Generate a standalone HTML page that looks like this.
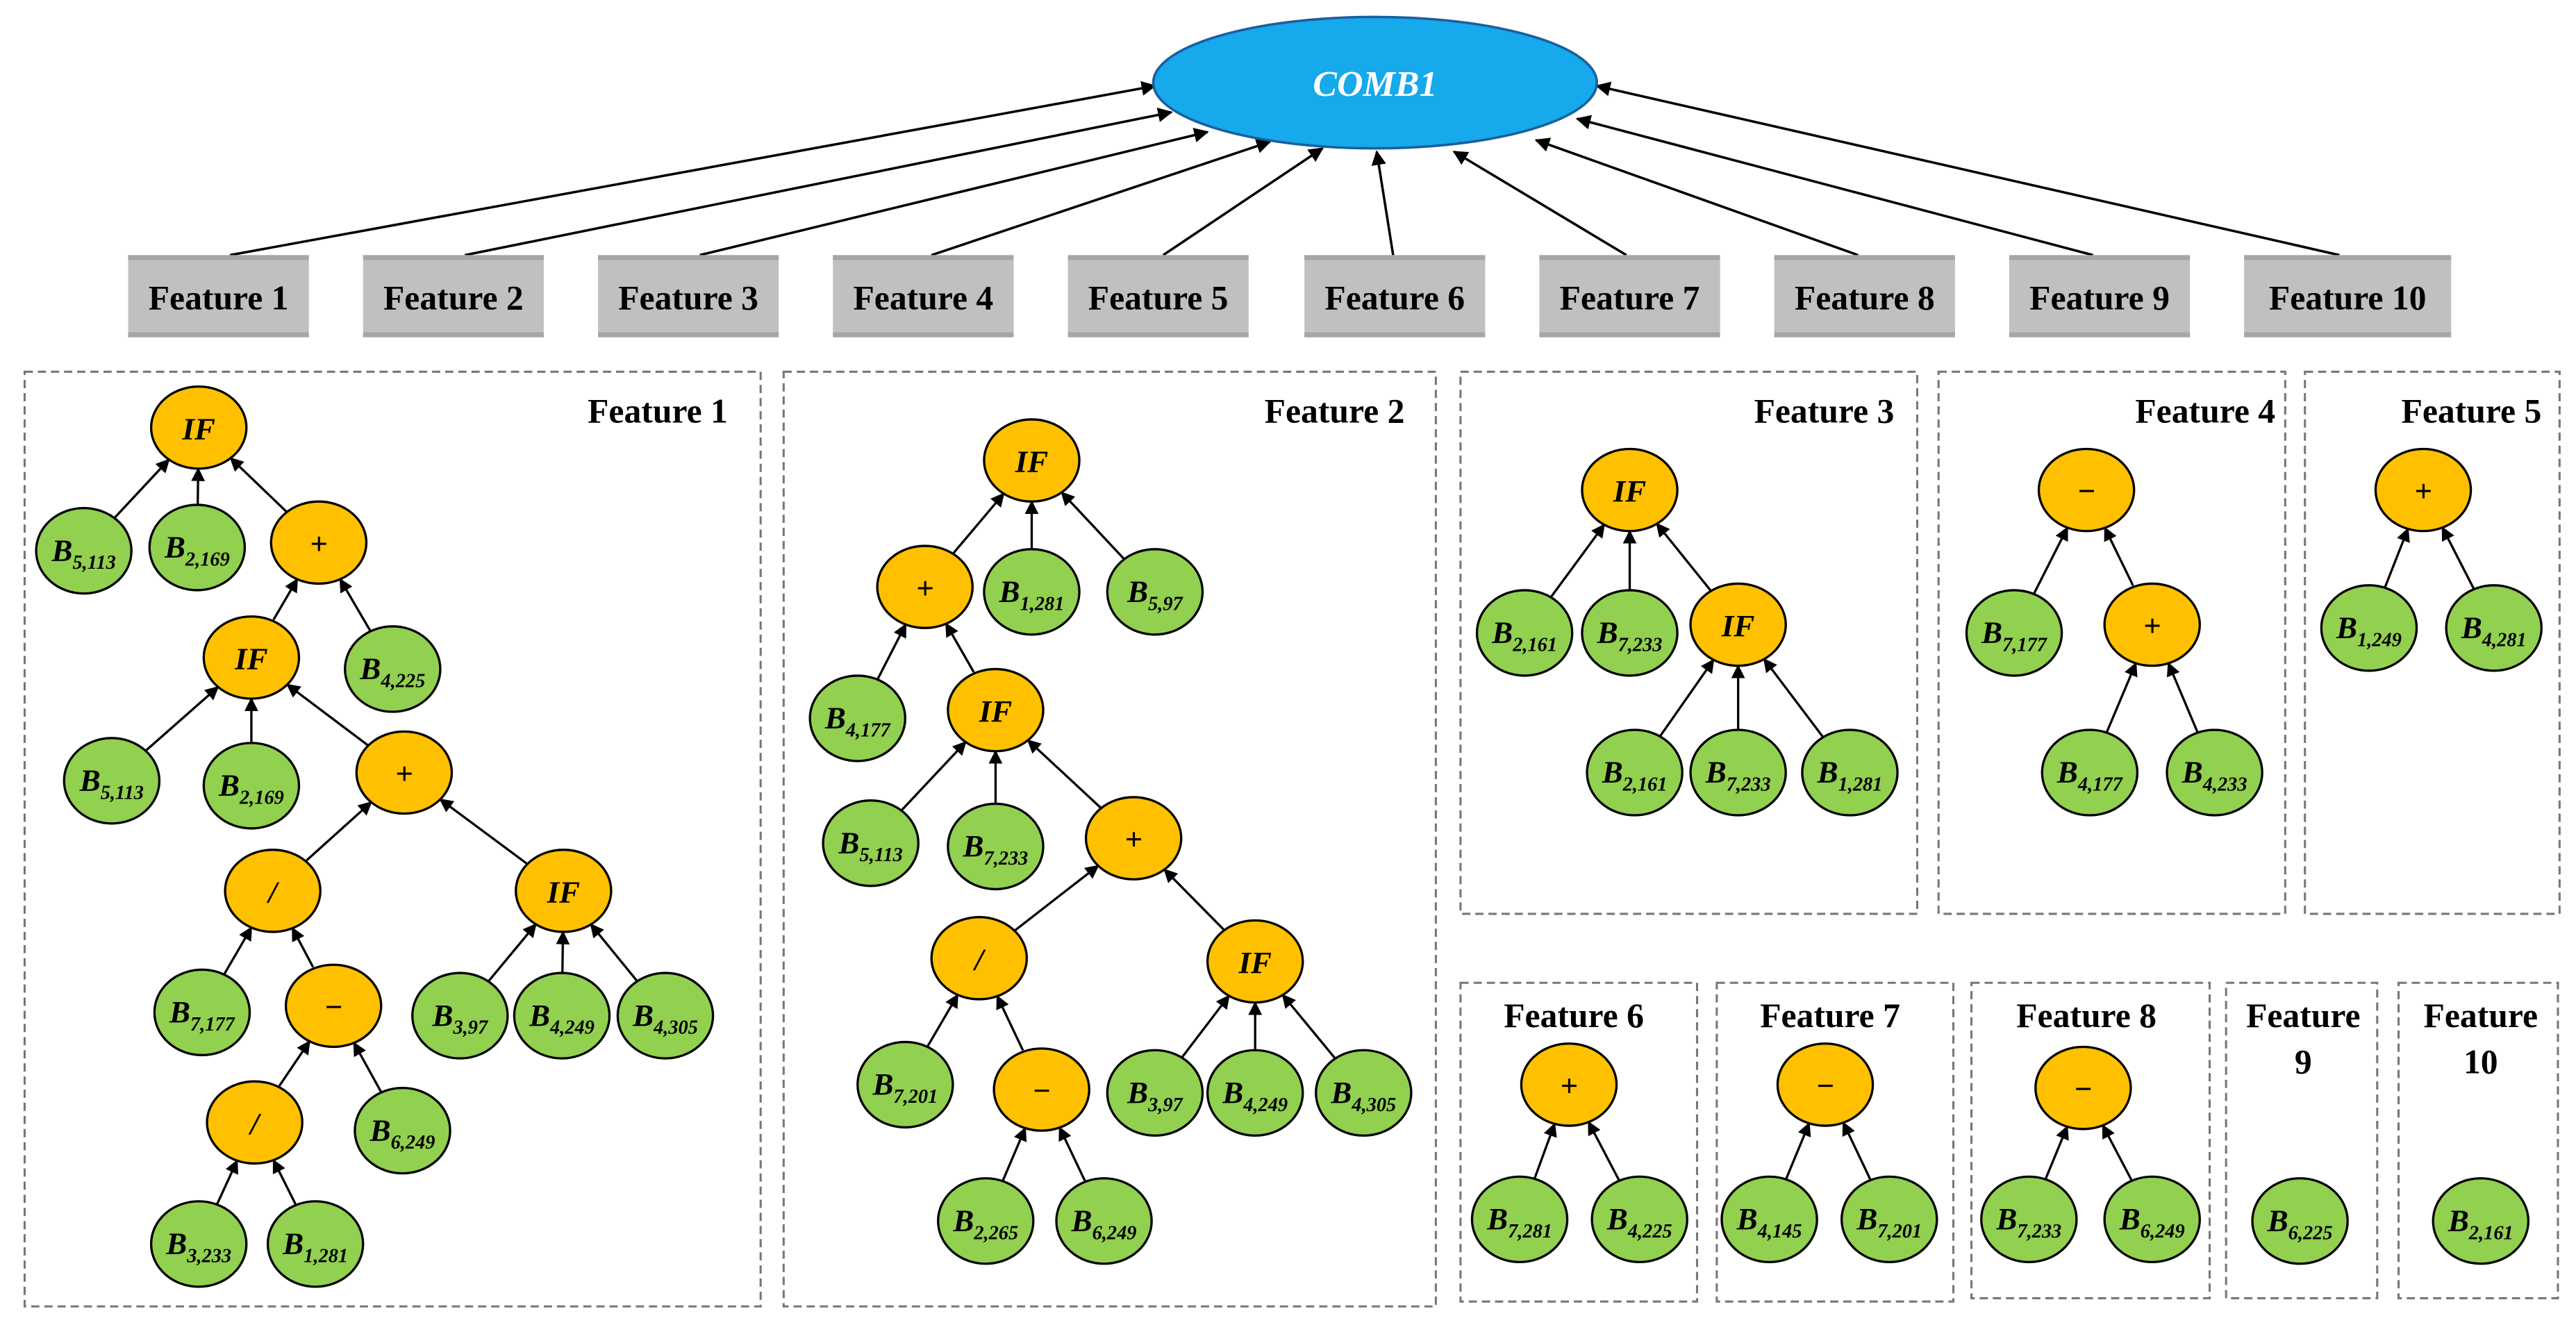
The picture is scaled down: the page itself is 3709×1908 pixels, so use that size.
<!DOCTYPE html>
<html><head><meta charset="utf-8"><style>
html,body{margin:0;padding:0;background:#fff;}
svg{display:block;font-family:"Liberation Serif","Times New Roman",serif;}
svg text{font-family:"Liberation Serif","Times New Roman",serif;font-weight:bold;}
.o ellipse{fill:#ffc000;stroke:#000;stroke-width:1.4;}
.g ellipse{fill:#92d050;stroke:#000;stroke-width:1.4;}
.n text{font-style:italic;font-size:19px;text-anchor:middle;}
.n .s{font-size:12px;}
.t{font-size:21px;}
.p{fill:none;stroke:#777;stroke-width:1.3;stroke-dasharray:5,3;}
.fb rect.m{fill:#c0c0c0;}
.fb text{font-size:21px;text-anchor:middle;}
</style></head><body>
<svg id="s" width="3709" height="1908" viewBox="0 0 1568 806" xmlns="http://www.w3.org/2000/svg" font-family="Liberation Serif, serif">
<defs><marker id="a" viewBox="0 0 10 10" refX="9" refY="5" markerWidth="6" markerHeight="6" orient="auto"><path d="M0,0L10,5L0,10z" fill="#000"/></marker>
<marker id="b" viewBox="0 0 10 10" refX="9" refY="5" markerWidth="6" markerHeight="6" orient="auto"><path d="M0,0L10,5L0,10z" fill="#000"/></marker></defs>
<g id="edges"></g>
<ellipse cx="837" cy="50" rx="135" ry="40" fill="#16a9ec" stroke="#1a5f9e" stroke-width="1.5"/>
<text x="837" y="58" fill="#fff" font-style="italic" font-size="22" text-anchor="middle">COMB1</text>
<g class="fb">
<g transform="translate(78,155)"><rect class="m" width="110" height="50"/><rect width="110" height="3" fill="#a6a6a6"/><rect y="47" width="110" height="3" fill="#a6a6a6"/><text x="55" y="33">Feature 1</text></g>
<g transform="translate(221,155)"><rect class="m" width="110" height="50"/><rect width="110" height="3" fill="#a6a6a6"/><rect y="47" width="110" height="3" fill="#a6a6a6"/><text x="55" y="33">Feature 2</text></g>
<g transform="translate(364,155)"><rect class="m" width="110" height="50"/><rect width="110" height="3" fill="#a6a6a6"/><rect y="47" width="110" height="3" fill="#a6a6a6"/><text x="55" y="33">Feature 3</text></g>
<g transform="translate(507,155)"><rect class="m" width="110" height="50"/><rect width="110" height="3" fill="#a6a6a6"/><rect y="47" width="110" height="3" fill="#a6a6a6"/><text x="55" y="33">Feature 4</text></g>
<g transform="translate(650,155)"><rect class="m" width="110" height="50"/><rect width="110" height="3" fill="#a6a6a6"/><rect y="47" width="110" height="3" fill="#a6a6a6"/><text x="55" y="33">Feature 5</text></g>
<g transform="translate(794,155)"><rect class="m" width="110" height="50"/><rect width="110" height="3" fill="#a6a6a6"/><rect y="47" width="110" height="3" fill="#a6a6a6"/><text x="55" y="33">Feature 6</text></g>
<g transform="translate(937,155)"><rect class="m" width="110" height="50"/><rect width="110" height="3" fill="#a6a6a6"/><rect y="47" width="110" height="3" fill="#a6a6a6"/><text x="55" y="33">Feature 7</text></g>
<g transform="translate(1080,155)"><rect class="m" width="110" height="50"/><rect width="110" height="3" fill="#a6a6a6"/><rect y="47" width="110" height="3" fill="#a6a6a6"/><text x="55" y="33">Feature 8</text></g>
<g transform="translate(1223,155)"><rect class="m" width="110" height="50"/><rect width="110" height="3" fill="#a6a6a6"/><rect y="47" width="110" height="3" fill="#a6a6a6"/><text x="55" y="33">Feature 9</text></g>
<g transform="translate(1366,155)"><rect class="m" width="126" height="50"/><rect width="126" height="3" fill="#a6a6a6"/><rect y="47" width="126" height="3" fill="#a6a6a6"/><text x="63" y="33">Feature 10</text></g>
</g>
<rect class="p" x="15" y="226" width="448" height="569"/>
<rect class="p" x="477" y="226" width="397" height="569"/>
<rect class="p" x="889" y="226" width="278" height="330"/>
<rect class="p" x="1180" y="226" width="211" height="330"/>
<rect class="p" x="1403" y="226" width="155" height="330"/>
<rect class="p" x="889" y="598" width="144" height="194"/>
<rect class="p" x="1045" y="598" width="144" height="194"/>
<rect class="p" x="1200" y="598" width="145" height="192"/>
<rect class="p" x="1355" y="598" width="92" height="192"/>
<rect class="p" x="1460" y="598" width="97" height="192"/>
<text class="t" x="443" y="257" text-anchor="end">Feature 1</text>
<text class="t" x="855" y="257" text-anchor="end">Feature 2</text>
<text class="t" x="1153" y="257" text-anchor="end">Feature 3</text>
<text class="t" x="1385" y="257" text-anchor="end">Feature 4</text>
<text class="t" x="1547" y="257" text-anchor="end">Feature 5</text>
<text class="t" x="958" y="625" text-anchor="middle">Feature 6</text>
<text class="t" x="1114" y="625" text-anchor="middle">Feature 7</text>
<text class="t" x="1270" y="625" text-anchor="middle">Feature 8</text>
<text class="t" x="1402" y="625" text-anchor="middle">Feature</text>
<text class="t" x="1402" y="653" text-anchor="middle">9</text>
<text class="t" x="1510" y="625" text-anchor="middle">Feature</text>
<text class="t" x="1510" y="653" text-anchor="middle">10</text>
<g id="nodes">
<g class="n o" transform="translate(121,260)"><ellipse rx="29" ry="25"/><text y="7">IF</text></g>
<g class="n g" transform="translate(51,335)"><ellipse rx="29" ry="26"/><text y="6">B<tspan class="s" dy="5">5,113</tspan></text></g>
<g class="n g" transform="translate(120,333)"><ellipse rx="29" ry="26"/><text y="6">B<tspan class="s" dy="5">2,169</tspan></text></g>
<g class="n o" transform="translate(194,330)"><ellipse rx="29" ry="25"/><text y="7">+</text></g>
<g class="n o" transform="translate(153,400)"><ellipse rx="29" ry="25"/><text y="7">IF</text></g>
<g class="n g" transform="translate(239,407)"><ellipse rx="29" ry="26"/><text y="6">B<tspan class="s" dy="5">4,225</tspan></text></g>
<g class="n g" transform="translate(68,475)"><ellipse rx="29" ry="26"/><text y="6">B<tspan class="s" dy="5">5,113</tspan></text></g>
<g class="n g" transform="translate(153,478)"><ellipse rx="29" ry="26"/><text y="6">B<tspan class="s" dy="5">2,169</tspan></text></g>
<g class="n o" transform="translate(246,470)"><ellipse rx="29" ry="25"/><text y="7">+</text></g>
<g class="n o" transform="translate(166,542)"><ellipse rx="29" ry="25"/><text y="7">/</text></g>
<g class="n o" transform="translate(343,542)"><ellipse rx="29" ry="25"/><text y="7">IF</text></g>
<g class="n g" transform="translate(123,616)"><ellipse rx="29" ry="26"/><text y="6">B<tspan class="s" dy="5">7,177</tspan></text></g>
<g class="n o" transform="translate(203,612)"><ellipse rx="29" ry="25"/><text y="7">−</text></g>
<g class="n g" transform="translate(280,618)"><ellipse rx="29" ry="26"/><text y="6">B<tspan class="s" dy="5">3,97</tspan></text></g>
<g class="n g" transform="translate(342,618)"><ellipse rx="29" ry="26"/><text y="6">B<tspan class="s" dy="5">4,249</tspan></text></g>
<g class="n g" transform="translate(405,618)"><ellipse rx="29" ry="26"/><text y="6">B<tspan class="s" dy="5">4,305</tspan></text></g>
<g class="n o" transform="translate(155,683)"><ellipse rx="29" ry="25"/><text y="7">/</text></g>
<g class="n g" transform="translate(245,688)"><ellipse rx="29" ry="26"/><text y="6">B<tspan class="s" dy="5">6,249</tspan></text></g>
<g class="n g" transform="translate(121,757)"><ellipse rx="29" ry="26"/><text y="6">B<tspan class="s" dy="5">3,233</tspan></text></g>
<g class="n g" transform="translate(192,757)"><ellipse rx="29" ry="26"/><text y="6">B<tspan class="s" dy="5">1,281</tspan></text></g>
<g class="n o" transform="translate(628,280)"><ellipse rx="29" ry="25"/><text y="7">IF</text></g>
<g class="n o" transform="translate(563,357)"><ellipse rx="29" ry="25"/><text y="7">+</text></g>
<g class="n g" transform="translate(628,360)"><ellipse rx="29" ry="26"/><text y="6">B<tspan class="s" dy="5">1,281</tspan></text></g>
<g class="n g" transform="translate(703,360)"><ellipse rx="29" ry="26"/><text y="6">B<tspan class="s" dy="5">5,97</tspan></text></g>
<g class="n g" transform="translate(522,437)"><ellipse rx="29" ry="26"/><text y="6">B<tspan class="s" dy="5">4,177</tspan></text></g>
<g class="n o" transform="translate(606,432)"><ellipse rx="29" ry="25"/><text y="7">IF</text></g>
<g class="n g" transform="translate(530,513)"><ellipse rx="29" ry="26"/><text y="6">B<tspan class="s" dy="5">5,113</tspan></text></g>
<g class="n g" transform="translate(606,515)"><ellipse rx="29" ry="26"/><text y="6">B<tspan class="s" dy="5">7,233</tspan></text></g>
<g class="n o" transform="translate(690,510)"><ellipse rx="29" ry="25"/><text y="7">+</text></g>
<g class="n o" transform="translate(596,583)"><ellipse rx="29" ry="25"/><text y="7">/</text></g>
<g class="n o" transform="translate(764,585)"><ellipse rx="29" ry="25"/><text y="7">IF</text></g>
<g class="n g" transform="translate(551,660)"><ellipse rx="29" ry="26"/><text y="6">B<tspan class="s" dy="5">7,201</tspan></text></g>
<g class="n o" transform="translate(634,663)"><ellipse rx="29" ry="25"/><text y="7">−</text></g>
<g class="n g" transform="translate(703,665)"><ellipse rx="29" ry="26"/><text y="6">B<tspan class="s" dy="5">3,97</tspan></text></g>
<g class="n g" transform="translate(764,665)"><ellipse rx="29" ry="26"/><text y="6">B<tspan class="s" dy="5">4,249</tspan></text></g>
<g class="n g" transform="translate(830,665)"><ellipse rx="29" ry="26"/><text y="6">B<tspan class="s" dy="5">4,305</tspan></text></g>
<g class="n g" transform="translate(600,743)"><ellipse rx="29" ry="26"/><text y="6">B<tspan class="s" dy="5">2,265</tspan></text></g>
<g class="n g" transform="translate(672,743)"><ellipse rx="29" ry="26"/><text y="6">B<tspan class="s" dy="5">6,249</tspan></text></g>
<g class="n o" transform="translate(992,298)"><ellipse rx="29" ry="25"/><text y="7">IF</text></g>
<g class="n g" transform="translate(928,385)"><ellipse rx="29" ry="26"/><text y="6">B<tspan class="s" dy="5">2,161</tspan></text></g>
<g class="n g" transform="translate(992,385)"><ellipse rx="29" ry="26"/><text y="6">B<tspan class="s" dy="5">7,233</tspan></text></g>
<g class="n o" transform="translate(1058,380)"><ellipse rx="29" ry="25"/><text y="7">IF</text></g>
<g class="n g" transform="translate(995,470)"><ellipse rx="29" ry="26"/><text y="6">B<tspan class="s" dy="5">2,161</tspan></text></g>
<g class="n g" transform="translate(1058,470)"><ellipse rx="29" ry="26"/><text y="6">B<tspan class="s" dy="5">7,233</tspan></text></g>
<g class="n g" transform="translate(1126,470)"><ellipse rx="29" ry="26"/><text y="6">B<tspan class="s" dy="5">1,281</tspan></text></g>
<g class="n o" transform="translate(1270,298)"><ellipse rx="29" ry="25"/><text y="7">−</text></g>
<g class="n g" transform="translate(1226,385)"><ellipse rx="29" ry="26"/><text y="6">B<tspan class="s" dy="5">7,177</tspan></text></g>
<g class="n o" transform="translate(1310,380)"><ellipse rx="29" ry="25"/><text y="7">+</text></g>
<g class="n g" transform="translate(1272,470)"><ellipse rx="29" ry="26"/><text y="6">B<tspan class="s" dy="5">4,177</tspan></text></g>
<g class="n g" transform="translate(1348,470)"><ellipse rx="29" ry="26"/><text y="6">B<tspan class="s" dy="5">4,233</tspan></text></g>
<g class="n o" transform="translate(1475,298)"><ellipse rx="29" ry="25"/><text y="7">+</text></g>
<g class="n g" transform="translate(1442,382)"><ellipse rx="29" ry="26"/><text y="6">B<tspan class="s" dy="5">1,249</tspan></text></g>
<g class="n g" transform="translate(1518,382)"><ellipse rx="29" ry="26"/><text y="6">B<tspan class="s" dy="5">4,281</tspan></text></g>
<g class="n o" transform="translate(955,660)"><ellipse rx="29" ry="25"/><text y="7">+</text></g>
<g class="n g" transform="translate(925,742)"><ellipse rx="29" ry="26"/><text y="6">B<tspan class="s" dy="5">7,281</tspan></text></g>
<g class="n g" transform="translate(998,742)"><ellipse rx="29" ry="26"/><text y="6">B<tspan class="s" dy="5">4,225</tspan></text></g>
<g class="n o" transform="translate(1111,660)"><ellipse rx="29" ry="25"/><text y="7">−</text></g>
<g class="n g" transform="translate(1077,742)"><ellipse rx="29" ry="26"/><text y="6">B<tspan class="s" dy="5">4,145</tspan></text></g>
<g class="n g" transform="translate(1150,742)"><ellipse rx="29" ry="26"/><text y="6">B<tspan class="s" dy="5">7,201</tspan></text></g>
<g class="n o" transform="translate(1268,662)"><ellipse rx="29" ry="25"/><text y="7">−</text></g>
<g class="n g" transform="translate(1235,742)"><ellipse rx="29" ry="26"/><text y="6">B<tspan class="s" dy="5">7,233</tspan></text></g>
<g class="n g" transform="translate(1310,742)"><ellipse rx="29" ry="26"/><text y="6">B<tspan class="s" dy="5">6,249</tspan></text></g>
<g class="n g" transform="translate(1400,743)"><ellipse rx="29" ry="26"/><text y="6">B<tspan class="s" dy="5">6,225</tspan></text></g>
<g class="n g" transform="translate(1510,743)"><ellipse rx="29" ry="26"/><text y="6">B<tspan class="s" dy="5">2,161</tspan></text></g>
</g>
</svg>
<script>
(function(){
var NS="http://www.w3.org/2000/svg",g=document.getElementById("edges");
function ln(x1,y1,x2,y2,w,m){var l=document.createElementNS(NS,"line");l.setAttribute("x1",x1);l.setAttribute("y1",y1);l.setAttribute("x2",x2);l.setAttribute("y2",y2);l.setAttribute("stroke","#000");l.setAttribute("stroke-width",w);l.setAttribute("marker-end","url(#"+m+")");g.appendChild(l);}
var top=[[140,155,703,52],[283,155,713,68],[426,155,735,80],[567,155,773,86],[708,155,805,90],[848,155,838,92],[990,155,885,92],[1131,155,935,85],[1274,155,960,72],[1424,155,972,52]];
top.forEach(function(e){ln(e[0],e[1],e[2],e[3],1.5,"a");});
var E=[
[51,335,121,260],[120,333,121,260],[194,330,121,260],[153,400,194,330],[239,407,194,330],
[68,475,153,400],[153,478,153,400],[246,470,153,400],[166,542,246,470],[343,542,246,470],
[123,616,166,542],[203,612,166,542],[280,618,343,542],[342,618,343,542],[405,618,343,542],
[155,683,203,612],[245,688,203,612],[121,757,155,683],[192,757,155,683],
[563,357,628,280],[628,360,628,280],[703,360,628,280],[522,437,563,357],[606,432,563,357],
[530,513,606,432],[606,515,606,432],[690,510,606,432],[596,583,690,510],[764,585,690,510],
[551,660,596,583],[634,663,596,583],[703,665,764,585],[764,665,764,585],[830,665,764,585],
[600,743,634,663],[672,743,634,663],
[928,385,992,298],[992,385,992,298],[1058,380,992,298],[995,470,1058,380],[1058,470,1058,380],[1126,470,1058,380],
[1226,385,1270,298],[1310,380,1270,298],[1272,470,1310,380],[1348,470,1310,380],
[1442,382,1475,298],[1518,382,1475,298],
[925,742,955,660],[998,742,955,660],[1077,742,1111,660],[1150,742,1111,660],[1235,742,1268,662],[1310,742,1268,662]];
function b(dx,dy,rx,ry){return 1/Math.sqrt((dx/rx)*(dx/rx)+(dy/ry)*(dy/ry));}
E.forEach(function(e){var dx=e[2]-e[0],dy=e[3]-e[1],L=Math.sqrt(dx*dx+dy*dy);var ux=dx/L,uy=dy/L;
var t1=b(ux,uy,29,26),t2=b(ux,uy,29,25);
ln(e[0]+ux*t1,e[1]+uy*t1,e[2]-ux*t2,e[3]-uy*t2,1.4,"b");});
})();
</script>
</body></html>
